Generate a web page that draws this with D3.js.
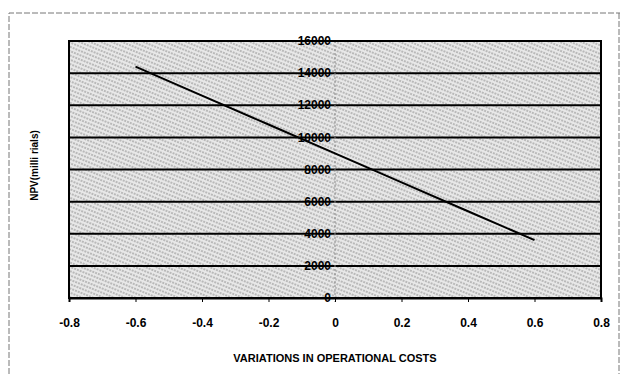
<!DOCTYPE html>
<html lang="en">
<head>
    <meta charset="UTF-8">
    <title>NPV sensitivity</title>
    <style>
        body { margin: 0; background: #fff; }
        svg text { font-family: "Liberation Sans", Arial, sans-serif; font-weight: bold; }
    </style>
</head>
<body>
    <script src="https://d3js.org/d3.v7.min.js"></script>
    <div id="my_dataviz"></div>
    <script>
        // data
        const variations = [-0.6, -0.4, -0.2, 0, 0.2, 0.4, 0.6];
        const npvValues = [14400, 12600, 10800, 9000, 7200, 5400, 3600];
        const xTicks = [-0.8, -0.6, -0.4, -0.2, 0, 0.2, 0.4, 0.6, 0.8];
        const yTicks = [0, 2000, 4000, 6000, 8000, 10000, 12000, 14000, 16000];

        const data = variations.map((v, i) => ({ x: v, y: npvValues[i] }));

        const W = 620, H = 374;
        const margin = { top: 41, right: 19, bottom: 76, left: 69 },
            width = W - margin.left - margin.right,
            height = H - margin.top - margin.bottom;

        const root = d3.select("#my_dataviz")
            .append("svg")
            .attr("width", W)
            .attr("height", H);

        // hatch pattern for the plot background
        const defs = root.append("defs");
        const pat = defs.append("pattern")
            .attr("id", "hatch")
            .attr("patternUnits", "userSpaceOnUse")
            .attr("width", 6).attr("height", 4)
            .attr("patternTransform", "rotate(22)");
        pat.append("rect").attr("width", 6).attr("height", 4).attr("fill", "#e8e8e8");
        pat.append("line")
            .attr("x1", 0).attr("y1", 1).attr("x2", 6).attr("y2", 1)
            .attr("stroke", "#8a8a8a").attr("stroke-width", 1)
            .attr("stroke-dasharray", "2,1");

        // dashed outer frame
        root.append("path")
            .attr("d", `M9,${H} V13 H${W} M${W - 1},13 V${H}`)
            .attr("fill", "none")
            .attr("stroke", "#777")
            .attr("stroke-width", 1)
            .attr("stroke-dasharray", "6,2");

        const svg = root.append("g")
            .attr("transform", `translate(${margin.left},${margin.top})`);

        const x = d3.scaleLinear().domain([-0.8, 0.8]).range([0, width]);
        const y = d3.scaleLinear().domain([0, 16000]).range([height, 0]);

        svg.append("rect")
            .attr("width", width).attr("height", height)
            .attr("fill", "url(#hatch)");

        // horizontal grid
        svg.append("g")
            .selectAll("line")
            .data(yTicks.filter(d => d > 0 && d < 16000))
            .join("line")
            .attr("x1", 0).attr("x2", width)
            .attr("y1", d => y(d)).attr("y2", d => y(d))
            .attr("stroke", "#000").attr("stroke-width", 2);

        // faint vertical line at x = 0
        svg.append("line")
            .attr("x1", x(0)).attr("x2", x(0))
            .attr("y1", 0).attr("y2", height + 4)
            .attr("stroke", "#888").attr("stroke-width", 1)
            .attr("stroke-dasharray", "2,2");

        // plot frame
        svg.append("rect")
            .attr("width", width).attr("height", height)
            .attr("fill", "none").attr("stroke", "#000").attr("stroke-width", 2);

        // x axis (plain hyphen for the minus sign, as in the original)
        const xAxis = svg.append("g")
            .attr("transform", `translate(0,${height})`)
            .call(d3.axisBottom(x).tickValues(xTicks).tickSize(4).tickPadding(16)
                .tickFormat(d => String(+d.toFixed(1))));
        xAxis.select(".domain").attr("stroke-width", 2);
        xAxis.selectAll("text").attr("font-size", 12).attr("fill", "#000");

        // y axis labels sitting on the x = 0 line
        svg.append("g")
            .selectAll("text")
            .data(yTicks)
            .join("text")
            .attr("x", x(0) - 4)
            .attr("y", d => y(d))
            .attr("dy", "0.35em")
            .attr("text-anchor", "end")
            .attr("font-size", 12)
            .text(d => d);

        // the line
        svg.append("path")
            .datum(data)
            .attr("fill", "none")
            .attr("stroke", "#000")
            .attr("stroke-width", 2)
            .attr("d", d3.line().x(d => x(d.x)).y(d => y(d.y)));

        // axis titles
        root.append("text")
            .attr("x", margin.left + width / 2)
            .attr("y", 362)
            .attr("text-anchor", "middle")
            .attr("font-size", 11)
            .text("VARIATIONS IN OPERATIONAL COSTS");

        root.append("text")
            .attr("transform", `translate(38,${margin.top + height / 2 - 4}) rotate(-90)`)
            .attr("text-anchor", "middle")
            .attr("font-size", 10)
            .text("NPV(milli rials)");
    </script>
</body>
</html>
